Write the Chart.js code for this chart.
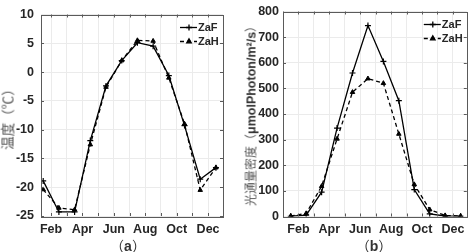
<!DOCTYPE html>
<html>
<head>
<meta charset="utf-8">
<script src="https://cdn.jsdelivr.net/npm/chart.js@4/dist/chart.umd.min.js"></script>
<style>
  html, body { margin: 0; padding: 0; background: #fff; }
  #wrap { position: relative; width: 472px; height: 252px; overflow: hidden; }
  .panel { position: absolute; top: 0; width: 236px; height: 252px; }
  .ylab { position: absolute; white-space: nowrap; transform: translate(-50%, -50%) rotate(-90deg);
          font-family: "Noto Sans CJK SC", sans-serif; color: #555; line-height: 13px; }
  .ylab b { font-family: "Liberation Sans", Arial, sans-serif; color: #333; }
  .cap { position: absolute; transform: translate(-50%, -50%); white-space: nowrap;
         font: 14px "Noto Sans CJK SC", sans-serif; color: #333; }
  .cap b { font-family: "Liberation Sans", Arial, sans-serif; }
</style>
</head>
<body>
<div id="wrap">
  <div class="panel" style="left:0"><canvas id="tempChart"></canvas></div>
  <div class="panel" style="left:236px"><canvas id="lightChart"></canvas></div>
  <div class="ylab" style="left:7px; top:116px; font-size:13.5px">温度（℃）</div>
  <div class="ylab" style="left:251px; top:113px; font-size:12px">光通量密度（<b style="font-size:12.5px">μmolPhoton/m²/s</b>）</div>
  <div class="cap" style="left:128px; top:245px">（<b>a</b>）</div>
  <div class="cap" style="left:374px; top:245px">（<b>b</b>）</div>
</div>
<script>
// month names for tick labels (only even months are shown)
const monthNames = ['Jan', 'Feb', 'Mar', 'Apr', 'May', 'Jun', 'Jul', 'Aug', 'Sep', 'Oct', 'Nov', 'Dec'];
// mid-month positions of the monthly values
const monthPos = [1.5, 2.5, 3.5, 4.5, 5.5, 6.5, 7.5, 8.5, 9.5, 10.5, 11.5, 12.5];

// (a) temperature, °C
const tempZaF = [-18.9, -24.3, -24.3, -11.9, -2.4, 2.0, 5.1, 4.5, -0.6, -9.3, -18.6, -16.6];
const tempZaH = [-20.4, -23.6, -23.9, -12.6, -2.6, 2.0, 5.5, 5.4, -1.0, -9.0, -20.5, -16.6];

// (b) photon flux density, µmolPhoton/m²/s
const lightZaF = [1, 5, 95, 345, 560, 745, 605, 452, 105, 10, 2, 1];
const lightZaH = [2, 12, 118, 303, 485, 538, 520, 322, 125, 27, 4, 2];

const tickFont = { family: '"Liberation Sans", Arial, sans-serif', size: 12.5, weight: 'bold' };
const tickColor = '#262626';
const gridColor = '#ebebeb';
const boxColor = '#5a5a5a';

function toPoints(values) {
    return values.map((v, i) => ({ x: monthPos[i], y: v }));
}

function makeDatasets(solid, dashed) {
    return [
        {
            label: 'ZaF',
            data: toPoints(solid),
            borderColor: '#000',
            backgroundColor: '#000',
            borderWidth: 1.3,
            pointStyle: 'cross',
            pointRadius: 3,
            pointBorderWidth: 1.2,
            tension: 0
        },
        {
            label: 'ZaH',
            data: toPoints(dashed),
            borderColor: '#000',
            backgroundColor: '#000',
            borderWidth: 1.3,
            borderDash: [4, 3],
            pointStyle: 'triangle',
            pointRadius: 2.6,
            pointBorderWidth: 1,
            tension: 0
        }
    ];
}

// box round the plot area with inward tick marks, MATLAB style
const boxPlugin = {
    id: 'boxTicks',
    afterDraw(chart) {
        const ctx = chart.ctx;
        const { left, right, top, bottom } = chart.chartArea;
        const xs = chart.scales.x;
        const ys = chart.scales.y;
        ctx.save();
        ctx.strokeStyle = boxColor;
        ctx.lineWidth = 1;
        ctx.beginPath();
        xs.ticks.forEach(t => {
            const px = Math.round(xs.getPixelForValue(t.value)) + 0.5;
            ctx.moveTo(px, bottom); ctx.lineTo(px, bottom - 3);
            ctx.moveTo(px, top); ctx.lineTo(px, top + 3);
        });
        ys.ticks.forEach(t => {
            const py = Math.round(ys.getPixelForValue(t.value)) + 0.5;
            ctx.moveTo(left, py); ctx.lineTo(left + 3, py);
            ctx.moveTo(right, py); ctx.lineTo(right - 3, py);
        });
        ctx.stroke();
        ctx.strokeRect(Math.round(left) + 0.5, Math.round(top) + 0.5,
                       Math.round(right - left), Math.round(bottom - top));
        ctx.restore();
    }
};

// legend with line sample + marker, top right inside the axes
const lineLegend = {
    id: 'lineLegend',
    afterDatasetsDraw(chart, args, opts) {
        const ctx = chart.ctx;
        const area = chart.chartArea;
        const x0 = area.right - opts.offset;
        chart.data.datasets.forEach((ds, i) => {
            const y = area.top + 13 + i * 14;
            ctx.save();
            ctx.strokeStyle = ds.borderColor;
            ctx.lineWidth = ds.borderWidth;
            ctx.setLineDash(ds.borderDash || []);
            ctx.beginPath();
            ctx.moveTo(x0, y);
            ctx.lineTo(x0 + 17, y);
            ctx.stroke();
            ctx.setLineDash([]);
            ctx.fillStyle = '#000';
            Chart.helpers.drawPoint(ctx, {
                pointStyle: ds.pointStyle,
                radius: ds.pointRadius,
                rotation: 0,
                borderWidth: ds.pointBorderWidth
            }, x0 + 9, y);
            ctx.fillStyle = tickColor;
            ctx.font = 'bold 11px "Liberation Sans", Arial, sans-serif';
            ctx.textBaseline = 'middle';
            ctx.fillText(ds.label, x0 + 18, y + 0.5);
            ctx.restore();
        });
    }
};

function makeChart(canvasId, datasets, cfg) {
    return new Chart(document.getElementById(canvasId), {
        type: 'line',
        data: { datasets: datasets },
        plugins: [boxPlugin, lineLegend],
        options: {
            responsive: false,
            animation: false,
            events: [],
            layout: { padding: { top: cfg.top, right: cfg.right, left: 0, bottom: 0 } },
            plugins: {
                legend: { display: false },
                tooltip: { enabled: false },
                lineLegend: { offset: cfg.legendOffset }
            },
            scales: {
                x: {
                    type: 'linear',
                    min: cfg.xMin,
                    max: cfg.xMax,
                    afterFit: s => { s.height = cfg.bottomSpace; },
                    border: { display: false },
                    grid: { color: gridColor, drawTicks: false },
                    ticks: {
                        stepSize: 1,
                        includeBounds: false,
                        autoSkip: false,
                        maxRotation: 0,
                        padding: 6,
                        color: tickColor,
                        font: tickFont,
                        callback: v => (v % 2 === 0 ? monthNames[v - 1] : '')
                    }
                },
                y: {
                    min: cfg.yMin,
                    max: cfg.yMax,
                    afterFit: s => { s.width = cfg.leftSpace; },
                    border: { display: false },
                    grid: { color: gridColor, drawTicks: false },
                    ticks: {
                        stepSize: cfg.yStep,
                        padding: cfg.yPad,
                        color: tickColor,
                        font: tickFont
                    }
                }
            }
        }
    });
}

document.getElementById('tempChart').width = 236;
document.getElementById('tempChart').height = 252;
document.getElementById('lightChart').width = 236;
document.getElementById('lightChart').height = 252;

makeChart('tempChart', makeDatasets(tempZaF, tempZaH), {
    top: 6, right: 13, leftSpace: 41, bottomSpace: 36, yPad: 7,
    xMin: 1.36, xMax: 12.95, yMin: -25, yMax: 10, yStep: 5, legendOffset: 43
});

makeChart('lightChart', makeDatasets(lightZaF, lightZaH), {
    top: 6.5, right: 4, leftSpace: 47, bottomSpace: 35.5, yPad: 4,
    xMin: 1, xMax: 12.9, yMin: 0, yMax: 800, yStep: 100, legendOffset: 43
});
</script>
</body>
</html>
